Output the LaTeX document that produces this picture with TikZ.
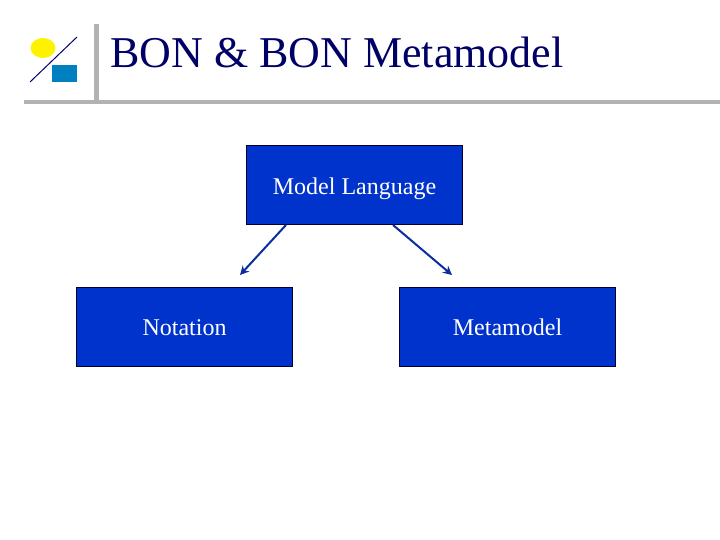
\documentclass[tikz,border=0pt]{standalone}
\usepackage{fontspec}
\setmainfont{Liberation Serif}
\usetikzlibrary{arrows.meta,shapes.geometric}
\definecolor{boxblue}{RGB}{0,51,204}
\definecolor{boxedge}{RGB}{0,0,51}
\definecolor{arrowblue}{RGB}{10,45,160}
\definecolor{titlenavy}{RGB}{0,0,102}
\definecolor{rulegray}{RGB}{178,178,178}
\definecolor{logoblue}{RGB}{0,128,192}
\tikzset{
  flowbox/.style={draw=boxedge,fill=boxblue,line width=1pt,minimum width=216pt,minimum height=79pt,inner sep=0pt,font=\fontsize{24}{28}\selectfont,text=white,text height=17pt,text depth=0pt},
  flowarrow/.style={draw=arrowblue,line width=2pt,-{Stealth[length=9pt,width=9pt]}},
  rulebar/.style={draw=none,fill=rulegray}
}
\begin{document}
\begin{tikzpicture}[x=1pt,y=-1pt]
\useasboundingbox (0,0) rectangle (720,540);
\fill[rulebar] (94,24) rectangle (99,100);
\fill[rulebar] (24,100) rectangle (720,104);
\node[draw=none,fill=yellow,ellipse,minimum width=25pt,minimum height=20pt,inner sep=0pt] (sun) at (43,48) {};
\node[draw=none,fill=logoblue,minimum width=25pt,minimum height=17pt,inner sep=0pt] (block) at (64.5,73.5) {};
\coordinate (slashA) at (30,82);
\coordinate (slashB) at (77,37);
\draw[titlenavy,line width=1pt] (slashA) -- (slashB);
\node[anchor=base west,inner sep=0pt,text=titlenavy,font=\fontsize{44}{50}\selectfont] (title) at (110,68) {BON \& BON Metamodel};
\node[flowbox] (lang) at (354.5,185) {\raisebox{-0.8pt}{Model Language}};
\node[flowbox] (nota) at (184.5,327) {Notation};
\node[flowbox] (meta) at (507.5,327) {Metamodel};
\coordinate (endL) at (240,275);
\coordinate (endR) at (452,275);
\draw[flowarrow] (286,0 |- lang.south) -- (endL);
\draw[flowarrow] (393,0 |- lang.south) -- (endR);
\end{tikzpicture}
\end{document}
